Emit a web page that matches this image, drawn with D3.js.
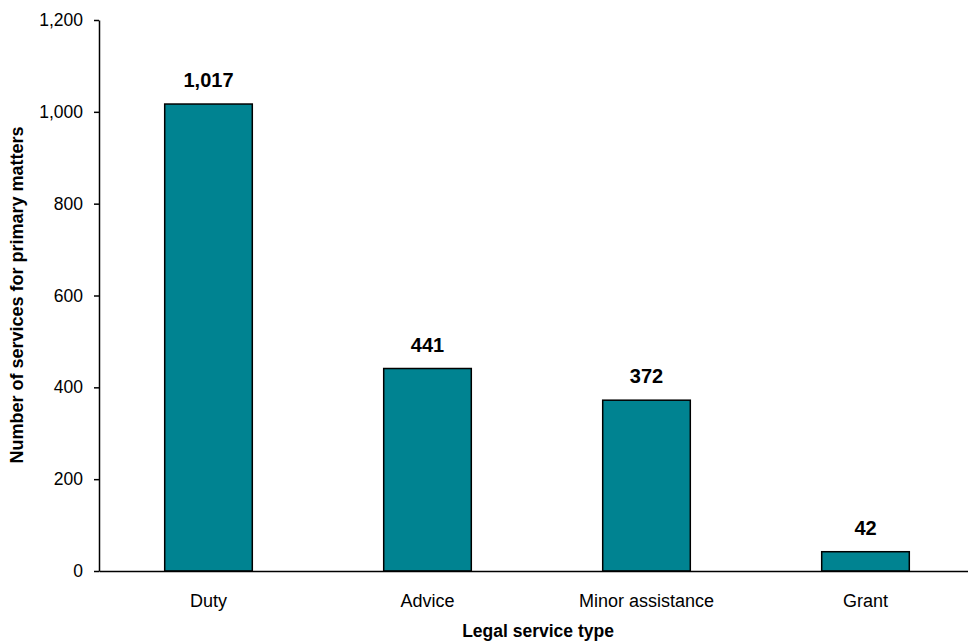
<!DOCTYPE html>
<html><head><meta charset="utf-8">
<script src="https://cdn.jsdelivr.net/npm/d3@7"></script>
<style>body{margin:0;background:#fff}svg{display:block;font-family:"Liberation Sans",Arial,sans-serif}</style>
</head><body>
<script>
const categories = ["Duty","Advice","Minor assistance","Grant"];
const values = [1017,441,372,42];
const yTicks = [0,200,400,600,800,1000,1200];

const W=968,H=642;
const svg=d3.select("body").append("svg").attr("width",W).attr("height",H);
const x0=99, x1=975, yTop=20, yBot=571;
const x=d3.scaleBand().domain(categories).range([x0,x1]).paddingInner(0.6).paddingOuter(0.3);
const y=d3.scaleLinear().domain([0,1200]).range([yBot,yTop]);

svg.selectAll("rect.bar").data(values).join("rect").attr("class","bar")
 .attr("x",(d,i)=>x(categories[i])).attr("width",x.bandwidth())
 .attr("y",d=>y(d)).attr("height",d=>y(0)-y(d))
 .attr("fill","#008391").attr("stroke","#000").attr("stroke-width",1.5);

const fmt=d3.format(",");
svg.selectAll("text.val").data(values).join("text").attr("class","val")
 .attr("x",(d,i)=>x(categories[i])+x.bandwidth()/2).attr("y",d=>y(d)-17)
 .attr("text-anchor","middle").attr("font-weight","bold").attr("font-size",20).text(d=>fmt(d));

const ya=svg.append("g").attr("transform",`translate(${x0},0)`)
 .call(d3.axisLeft(y).tickValues(yTicks).tickFormat(fmt).tickSize(5).tickSizeOuter(0));
ya.select(".domain").attr("stroke","#000").attr("stroke-width",1.5);
ya.selectAll(".tick line").attr("stroke","#000").attr("stroke-width",1.5);
ya.selectAll(".tick text").attr("font-size",17.5).attr("fill","#000").attr("x",-16).attr("font-family","Liberation Sans, Arial, sans-serif");

const xa=svg.append("g").attr("transform",`translate(0,${yBot})`)
 .call(d3.axisBottom(x).tickSize(0).tickSizeOuter(0));
xa.select(".domain").attr("stroke","#000").attr("stroke-width",1.5);
xa.selectAll(".tick text").attr("font-size",18).attr("fill","#000").attr("dy","0.71em").attr("y",23).attr("font-family","Liberation Sans, Arial, sans-serif");

svg.append("text").attr("x",538).attr("y",637).attr("text-anchor","middle")
 .attr("font-weight","bold").attr("font-size",17.5).text("Legal service type");
svg.append("text").attr("transform","translate(23,295) rotate(-90)").attr("text-anchor","middle")
 .attr("font-weight","bold").attr("font-size",18).text("Number of services for primary matters");
</script>
</body></html>
